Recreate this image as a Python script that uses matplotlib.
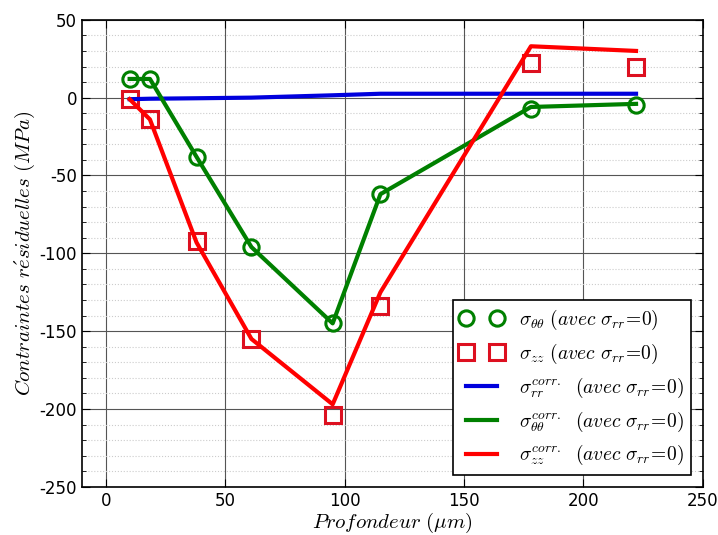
import numpy as np
import matplotlib.pyplot as plt
from matplotlib.ticker import MultipleLocator

plt.rcParams['mathtext.fontset'] = 'cm'
plt.rcParams['axes.unicode_minus'] = False

# profondeur des points de mesure (um)
prof = [10, 18.5, 38, 61, 95, 115, 178, 222]

# mesures
s_tt = [12, 12, -38, -96, -145, -62, -7, -5]
s_zz = [-1, -14, -92, -155, -204, -134, 22, 20]

# valeurs corrigees
c_rr = [-1, -0.7, -0.4, 0, 1.5, 2.5, 2.5, 2.5]
c_tt = [12, 12, -38, -96, -145, -62, -6, -4]
c_zz = [-1, -14, -93, -155, -197, -125, 33, 30]

fig = plt.figure(figsize=(7.18, 5.35), dpi=100)
ax = fig.add_axes([0.114, 0.09, 0.865, 0.873])

lab = r'\ (avec\ \sigma_{rr}\!=\!0)$'
ax.plot(prof, s_tt, 'o', mfc='none', mec='green', mew=2.2, ms=11,
        label=r'$\sigma_{\theta\theta}' + lab)
ax.plot(prof, s_zz, 's', mfc='none', mec='#dd1020', mew=2.2, ms=11,
        label=r'$\sigma_{zz}' + lab)
ax.plot(prof, c_rr, '-', color='#0000dd', lw=3,
        label=r'$\sigma_{rr}^{corr.}\ \ ' + lab[1:])
ax.plot(prof, c_tt, '-', color='green', lw=3,
        label=r'$\sigma_{\theta\theta}^{corr.}\ \ ' + lab[1:])
ax.plot(prof, c_zz, '-', color='red', lw=3,
        label=r'$\sigma_{zz}^{corr.}\ \ ' + lab[1:])

ax.set_xlim(-10, 250)
ax.set_ylim(-250, 50)
ax.xaxis.set_major_locator(MultipleLocator(50))
ax.yaxis.set_major_locator(MultipleLocator(50))
ax.yaxis.set_minor_locator(MultipleLocator(10))
ax.grid(True, which='major', color='#555555', lw=0.8)
ax.grid(True, which='minor', axis='y', color='#cccccc', ls=':', lw=0.8)
ax.tick_params(which='both', direction='in', right=True, top=True, labelsize=12)
ax.tick_params(which='major', length=6)
ax.tick_params(which='minor', length=3)
for s in ax.spines.values():
    s.set_linewidth(1.2)

ax.set_xlabel(r'$Profondeur\ (\mu m)$', fontsize=15, labelpad=1)
ax.set_ylabel(r'$Contraintes\ r\acute{e}siduelles\ (MPa)$', fontsize=15, labelpad=2)

leg = ax.legend(loc='lower right', numpoints=2, fontsize=14, fancybox=False,
                framealpha=1, edgecolor='black', borderaxespad=0.6,
                handlelength=2.2, labelspacing=0.5)
leg.get_frame().set_linewidth(1.2)

fig.savefig('out.png', dpi=100)
